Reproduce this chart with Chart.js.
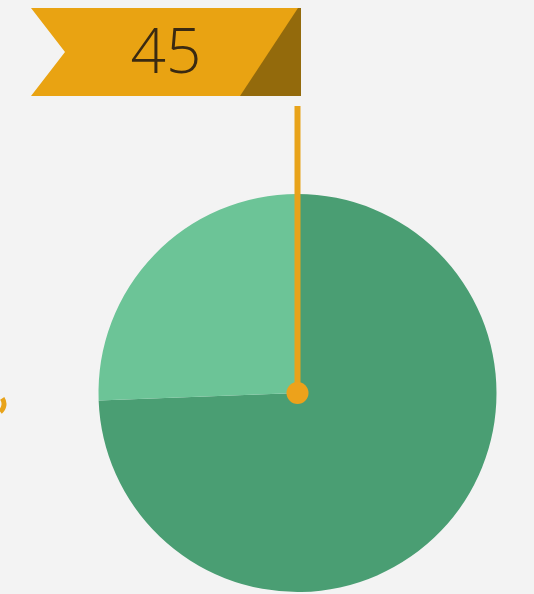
<!DOCTYPE html>
<html>
<head>
<meta charset="utf-8">
<script src="https://cdn.jsdelivr.net/npm/chart.js@4.4.1/dist/chart.umd.min.js"></script>
<style>
  html, body { margin: 0; padding: 0; background: #f3f3f3; }
  #wrap { width: 534px; height: 594px; position: relative; }
</style>
</head>
<body>
<div id="wrap"><canvas id="pieChart"></canvas></div>
<script>
// chart data
const categories = ['Rest', 'Share']
const values = [74.4, 25.6]
const sliceColors = ['#4a9e73', '#6cc497']
const flagValue = 45

// draws the flag banner, the pointer line and the little dot
const flagPlugin = {
    id: 'flag',
    afterDatasetsDraw(chart) {
        const ctx = chart.ctx
        const arc = chart.getDatasetMeta(0).data[0]
        const cx = arc.x
        const cy = arc.y

        ctx.save()

        // stray mark at the left edge
        ctx.strokeStyle = '#e8a31a'
        ctx.lineWidth = 5
        ctx.beginPath()
        ctx.arc(-6, 404, 10, -0.6, 0.9)
        ctx.stroke()

        // pointer line
        ctx.strokeStyle = '#e8a31a'
        ctx.lineWidth = 6
        ctx.beginPath()
        ctx.moveTo(cx, 106)
        ctx.lineTo(cx, cy)
        ctx.stroke()

        ctx.fillStyle = '#eda21b'
        ctx.beginPath()
        ctx.arc(cx, cy, 11, 0, Math.PI * 2)
        ctx.fill()

        // banner
        ctx.fillStyle = '#e9a312'
        ctx.beginPath()
        ctx.moveTo(31, 8)
        ctx.lineTo(301, 8)
        ctx.lineTo(301, 96)
        ctx.lineTo(31, 96)
        ctx.lineTo(65, 52)
        ctx.closePath()
        ctx.fill()

        ctx.fillStyle = '#936a0c'
        ctx.beginPath()
        ctx.moveTo(298, 8)
        ctx.lineTo(301, 8)
        ctx.lineTo(301, 96)
        ctx.lineTo(240, 96)
        ctx.closePath()
        ctx.fill()

        ctx.fillStyle = '#3a2a12'
        ctx.font = '300 62px "Open Sans", Lato, sans-serif'
        ctx.textAlign = 'center'
        ctx.textBaseline = 'middle'
        ctx.fillText(String(flagValue), 166, 55)

        ctx.restore()
    },
}

new Chart(document.getElementById('pieChart').getContext('2d'), {
    type: 'pie',
    data: {
        labels: categories,
        datasets: [
            {
                data: values,
                backgroundColor: sliceColors,
                borderWidth: 0,
            },
        ],
    },
    options: {
        responsive: true,
        maintainAspectRatio: false,
        animation: false,
        layout: { padding: { left: 98, right: 37, top: 194, bottom: 2 } },
        plugins: {
            legend: { display: false },
            tooltip: { enabled: false },
        },
    },
    plugins: [flagPlugin],
})
</script>
</body>
</html>
